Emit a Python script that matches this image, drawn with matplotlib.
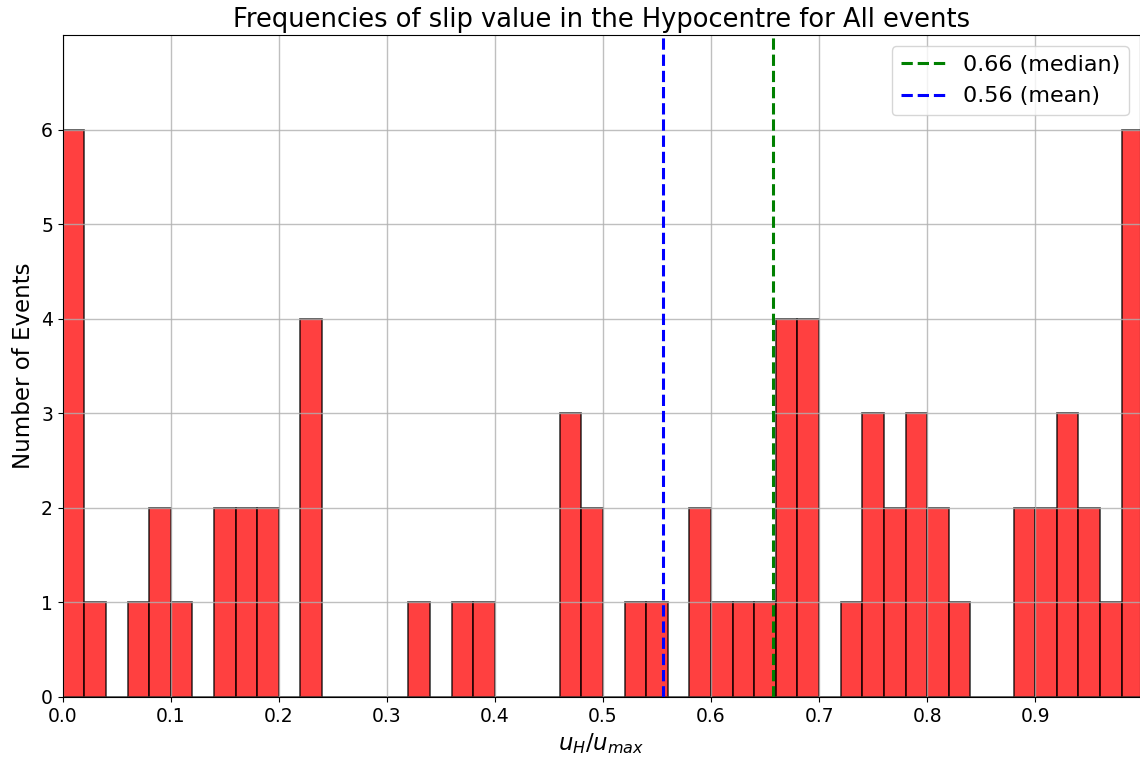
import numpy as np
import matplotlib
matplotlib.use("Agg")
from matplotlib import pyplot as plt

# histogram counts, 50 bins of width 0.02 between 0 and 1
bin_edges = np.linspace(0.0, 1.0, 51)
counts = [6, 1, 0, 1, 2, 1, 0, 2, 2, 2,
          0, 4, 0, 0, 0, 0, 1, 0, 1, 1,
          0, 0, 0, 3, 2, 0, 1, 1, 0, 2,
          1, 1, 1, 4, 4, 0, 1, 3, 2, 3,
          2, 1, 0, 0, 2, 2, 3, 2, 1, 6]
mean_val = 0.556
median_val = 0.657
x_max = 0.997

centres = 0.5 * (bin_edges[:-1] + bin_edges[1:])

fig = plt.figure(figsize=(11.4, 7.65), dpi=100)
ax = fig.add_axes([0.055, 0.089, 0.945, 0.865])

ax.hist(centres, bins=bin_edges, weights=counts, color="red", alpha=0.75,
        edgecolor="black", linewidth=1.2)
ax.axvline(median_val, color="green", linestyle="--", linewidth=2.2,
           label="%.2f (median)" % median_val)
ax.axvline(mean_val, color="blue", linestyle="--", linewidth=2.2,
           label="%.2f (mean)" % mean_val)

ax.set_xlim(0, x_max)
ax.set_ylim(0, 7)
ax.set_yticks(range(0, 7))
ax.set_xticks(np.arange(0, 1.0, 0.1))
ax.grid(True, color="#b0b0b0", linewidth=1.0, alpha=0.8)
ax.tick_params(labelsize=13.5)

ax.set_title("Frequencies of slip value in the Hypocentre for All events", fontsize=18.5)
ax.set_xlabel(r"$u_H/u_{max}$", fontsize=16.5)
ax.set_ylabel("Number of Events", fontsize=16.5)
ax.legend(loc="upper right", fontsize=16)

fig.savefig("out.png", dpi=100)
